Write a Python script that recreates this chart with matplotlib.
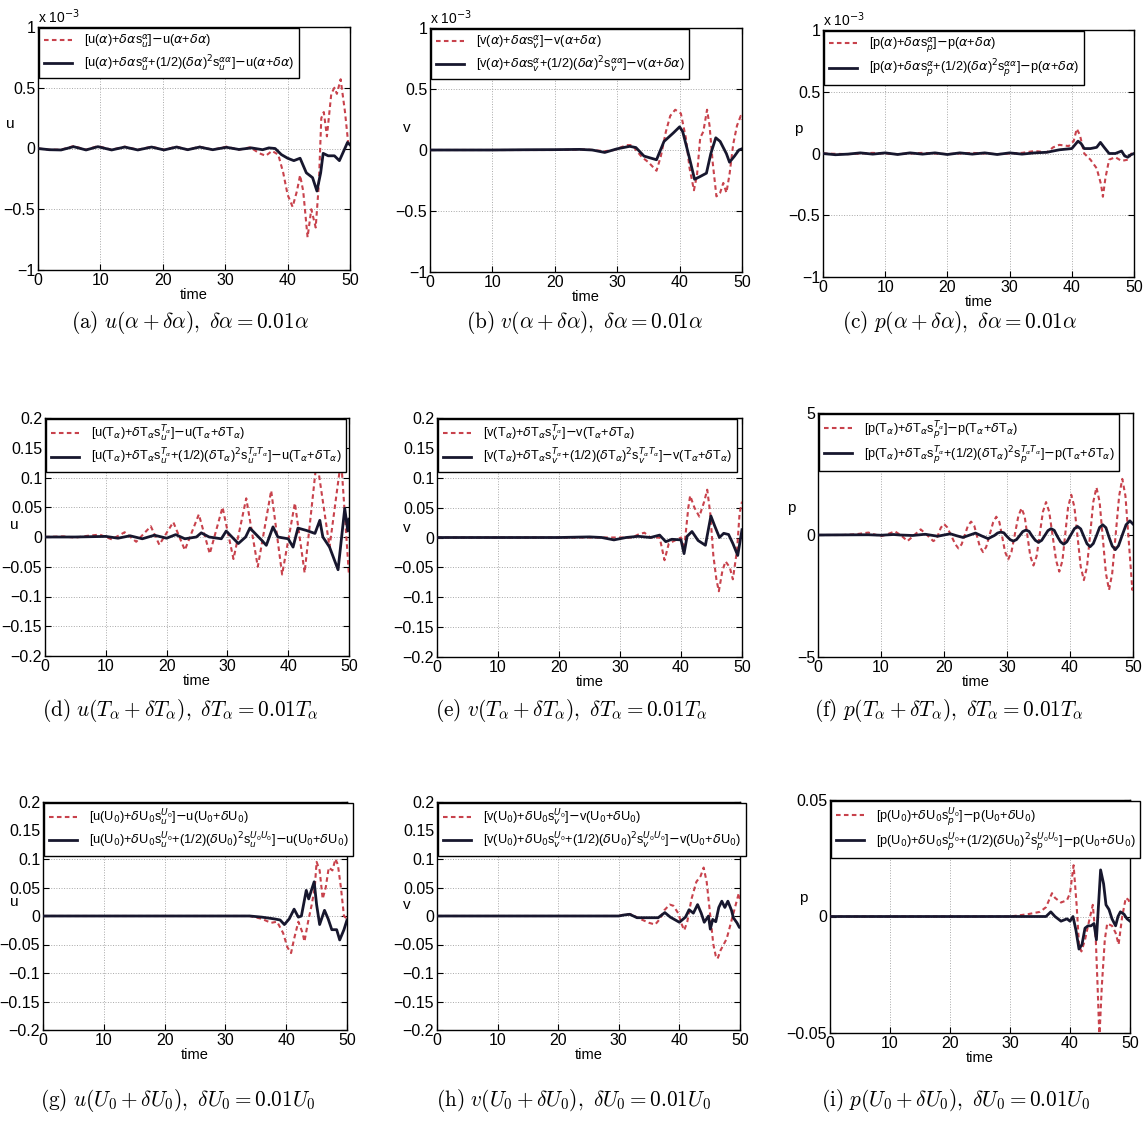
import matplotlib
matplotlib.use("Agg")
import matplotlib.pyplot as plt
from matplotlib.ticker import FixedLocator, FuncFormatter

W, H = 1143, 1127

# ---------------- data ----------------
# row 1: alpha perturbation, values in units of 1e-3
ta_blk = [0, 1.8, 3.7, 5.7, 7.7, 9.6, 11.8, 13.9, 16.0, 18.2, 20.2, 22.2, 24.0, 25.9, 28.0, 30.2, 32.2, 34.2,
          36.0, 37.0, 38.0, 39.0, 40.0, 41.0, 42.0, 43.0, 44.0, 44.7, 45.3, 45.7, 46.5, 47.5, 48.3, 49.0, 49.6, 50.0]
ua_blk = [0, -0.01, -0.012, 0.015, -0.012, 0.015, -0.012, 0.012, -0.012, 0.012, -0.012, 0.012, -0.01, 0.012, -0.01,
          0.01, -0.008, 0.005, -0.01, 0.005, 0.0, -0.05, -0.08, -0.1, -0.08, -0.2, -0.24, -0.35, -0.2, -0.04, -0.06,
          -0.06, -0.1, -0.02, 0.05, 0.03]
ta_red = [0, 1.8, 3.7, 5.7, 7.7, 9.6, 11.8, 13.9, 16.0, 18.2, 20.2, 22.2, 24.0, 25.9, 28.0, 30.2, 32.2, 34.0, 35.5,
          36.5, 37.5, 38.5, 39.3, 40.0, 40.8, 41.5, 42.0, 42.5, 43.2, 43.8, 44.5, 45.0, 45.4, 45.8, 46.3, 47.0, 47.5,
          47.9, 48.5, 49.2, 49.7, 50.0]
ua_red = [0, -0.01, -0.01, 0.02, -0.01, 0.02, -0.01, 0.015, -0.01, 0.015, -0.01, 0.015, -0.01, 0.015, -0.01, 0.015,
          -0.01, 0.01, -0.04, -0.06, -0.02, -0.05, -0.2, -0.38, -0.48, -0.35, -0.22, -0.35, -0.73, -0.5, -0.65, -0.3,
          0.25, 0.3, 0.1, 0.45, 0.5, 0.45, 0.57, 0.3, 0.05, 0.02]

tb_blk = [0, 5, 10, 15, 20, 24, 26, 28, 30, 32, 33, 34.3, 36.3, 37.5, 39, 40, 40.5, 41.5, 42.4, 43.2, 44.3, 45,
          45.8, 46.5, 47.5, 48, 48.8, 49.5, 50]
vb_blk = [0, 0, 0, 0.002, 0.003, 0.005, 0.0, -0.02, 0.01, 0.03, 0.02, -0.05, -0.08, 0.07, 0.14, 0.19, 0.15, -0.05,
          -0.24, -0.22, -0.19, -0.03, 0.1, 0.07, -0.03, -0.1, -0.05, 0.0, 0.01]
tb_red = [0, 10, 20, 25, 28, 29.5, 30.5, 31.5, 32.5, 33, 34, 35, 36.3, 37, 37.8, 38.5, 39.3, 40.2, 41, 41.6, 42.3,
          42.8, 43.3, 43.8, 44.4, 44.8, 45.3, 45.9, 46.5, 47, 47.5, 48, 48.6, 49.2, 49.8, 50]
vb_red = [0, 0, 0, 0.005, -0.01, 0.0, 0.02, 0.04, 0.04, 0.0, -0.06, -0.1, -0.17, -0.05, 0.15, 0.28, 0.33, 0.3, 0.1,
          -0.15, -0.33, -0.2, 0.1, 0.15, 0.33, 0.2, -0.1, -0.38, -0.35, -0.27, -0.35, -0.2, 0.05, 0.2, 0.28, 0.25]

tc_blk = [0, 2, 4, 6, 8, 10, 12, 14, 16, 18, 20, 22, 24, 26, 28, 30, 32, 34, 36, 37, 38, 40, 40.5, 41, 41.5, 42,
          43, 44, 44.6, 45.2, 46, 47, 48, 48.5, 49, 49.5, 50]
pc_blk = [0, -0.01, -0.005, 0.005, -0.005, 0.005, -0.008, 0.005, -0.005, 0.005, -0.008, 0.005, -0.005, 0.005,
          -0.008, 0.005, -0.005, 0.005, 0.01, 0.02, 0.03, 0.04, 0.07, 0.1, 0.08, 0.04, 0.04, 0.05, 0.09, 0.05, 0.0,
          0.0, 0.02, -0.02, -0.03, -0.01, 0.0]
tc_red = [0, 4, 8, 12, 16, 20, 24, 28, 32, 34, 36, 37, 38, 39.5, 40.3, 40.8, 41.3, 42, 43, 44, 44.7, 45, 45.4, 46,
          47, 48, 49, 49.6, 50]
pc_red = [0, -0.005, 0.005, -0.005, 0.005, -0.005, 0.005, -0.005, 0.005, 0.02, 0.01, 0.05, 0.07, 0.06, 0.1, 0.2,
          0.15, 0.0, -0.05, -0.12, -0.25, -0.35, -0.2, -0.05, -0.03, -0.06, -0.05, 0.0, 0.02]

# row 2: T_alpha perturbation
td_blk = [0, 5, 10, 12, 14, 16, 18, 20, 21.5, 23, 24.9, 25.7, 27, 29, 29.8, 31.8, 33, 33.7, 35.6, 36.4, 37.5, 38.3,
          40, 40.8, 41.6, 43, 44.4, 45.2, 45.7, 46.8, 48.2, 49.3, 49.8, 50]
ud_blk = [0, 0, 0.001, -0.002, 0.002, -0.003, 0.003, -0.002, 0.004, -0.003, 0.0, 0.007, 0.0, -0.003, 0.01, -0.011,
          0.0, 0.015, -0.005, -0.014, 0.017, 0.0, -0.003, -0.017, 0.015, 0.011, 0.006, 0.028, 0.0, -0.017, -0.055,
          0.048, 0.01, 0.03]
td_red = [0, 3, 5, 7, 9, 11, 13.1, 15, 17.4, 18.8, 21.1, 23, 25.3, 27.1, 29.2, 31, 33.1, 35, 37.2, 39, 41.1, 42.7,
          44.7, 46.8, 48.7, 50]
ud_red = [0, 0.001, -0.001, 0.002, 0.004, -0.004, 0.008, -0.008, 0.018, -0.013, 0.025, -0.022, 0.038, -0.028, 0.05,
          -0.037, 0.065, -0.05, 0.078, -0.063, 0.057, -0.06, 0.13, -0.017, 0.13, -0.065]

te_blk = [0, 10, 20, 25, 27, 29, 31, 33, 35, 36.5, 37.5, 38.5, 40, 40.5, 41, 41.8, 42.8, 44, 44.9, 45.5, 46.3, 47,
          47.8, 48.5, 49.3, 50]
ve_blk = [0, 0, 0, 0.001, 0.0, -0.004, 0.0, 0.002, 0.0, 0.004, -0.007, -0.003, -0.004, -0.027, 0.002, 0.01, -0.005,
          -0.013, 0.036, 0.02, 0.0, 0.007, 0.005, -0.01, -0.03, 0.013]
te_red = [0, 10, 20, 30, 32, 33, 34, 35, 36.5, 37.3, 38, 39, 40, 40.5, 41.2, 41.5, 42.2, 43, 43.8, 44.3, 44.8, 45.3,
          45.8, 46.2, 46.8, 47.3, 48, 48.5, 49.2, 49.6, 50]
ve_red = [0, 0, 0, 0, 0.0, 0.005, 0.008, 0.0, 0.0, -0.038, -0.01, -0.005, 0.0, -0.02, 0.05, 0.07, 0.05, 0.035, 0.06,
          0.08, 0.04, -0.03, -0.07, -0.09, -0.055, -0.04, -0.05, -0.07, -0.02, 0.04, 0.06]

tf_blk = [0, 8, 10, 12, 13, 15, 17, 19, 21, 22, 23, 24, 25, 26, 27, 28.0, 28.5, 29.0, 29.5, 30.0, 30.5, 31.0, 31.5,
          32.0, 32.5, 33.0, 33.5, 34.0, 34.5, 35.0, 35.5, 36.0, 36.5, 37.0, 37.5, 38.0, 38.5, 39.0, 39.5, 40.1, 40.7,
          41.2, 41.7, 42.2, 42.7, 43.2, 43.7, 44.2, 44.7, 45.2, 45.7, 46.2, 46.7, 47.2, 47.7, 48.3, 48.9, 49.5, 50.0]
pf_blk = [0, 0.01, -0.01, 0.02, 0.0, -0.02, 0.03, -0.05, 0.05, -0.03, -0.1, -0.01, 0.08, -0.04, -0.15, -0.02, 0.08,
          0.12, 0.09, -0.06, -0.19, -0.25, -0.19, -0.03, 0.14, 0.2, 0.15, -0.05, -0.22, -0.3, -0.22, -0.02, 0.18,
          0.26, 0.19, -0.06, -0.28, -0.38, -0.28, -0.01, 0.26, 0.35, 0.25, -0.06, -0.36, -0.48, -0.35, -0.03, 0.31,
          0.42, 0.3, -0.09, -0.45, -0.6, -0.44, 0.0, 0.42, 0.58, 0.45]
tf_red = [0, 4, 6, 8, 9, 10, 11, 12.2, 13.2, 14.2, 15.3, 16.3, 17.3, 18.3, 18.8, 19.5, 20.0, 20.5, 21.8, 22.3, 22.8,
          23.8, 24.3, 24.8, 25.7, 26.2, 26.7, 27.8, 28.3, 28.8, 29.7, 30.2, 30.7, 31.8, 32.3, 32.8, 33.7, 34.2, 34.7,
          35.7, 36.2, 36.7, 37.8, 38.3, 38.8, 39.7, 40.2, 40.7, 41.7, 42.2, 42.7, 43.7, 44.2, 44.7, 45.7, 46.2, 46.7,
          47.8, 48.3, 48.8, 49.9, 50]
pf_red = [0, 0.0, 0.03, 0.1, 0.02, -0.05, 0.03, 0.15, -0.02, -0.25, 0.0, 0.23, 0.0, -0.25, -0.17, 0.3, 0.45, 0.32,
          -0.38, -0.55, -0.38, 0.38, 0.55, 0.38, -0.49, -0.7, -0.49, 0.52, 0.75, 0.52, -0.7, -1.0, -0.7, 0.77, 1.1,
          0.77, -0.87, -1.25, -0.87, 0.95, 1.35, 0.95, -1.05, -1.5, -1.05, 1.15, 1.65, 1.15, -1.3, -1.85, -1.3, 1.36,
          1.95, 1.36, -1.57, -2.25, -1.57, 1.6, 2.3, 1.6, -2.25, -2.0]

# row 3: U_0 perturbation
tg_blk = [0, 10, 20, 30, 34, 36, 38, 39, 39.7, 40.5, 41.3, 42, 42.5, 43.3, 43.7, 44.2, 44.6, 45.0, 45.5, 46.3, 46.9,
          47.5, 48.3, 48.8, 49.5, 50]
ug_blk = [0, 0, 0, 0, 0.0, -0.002, -0.005, -0.007, -0.015, -0.005, 0.012, -0.002, 0.0, 0.045, 0.03, 0.047, 0.06,
          0.02, -0.015, 0.01, -0.005, -0.024, -0.024, -0.042, -0.024, -0.007]
tg_red = [0, 10, 20, 30, 34, 36, 37.5, 38.5, 39.5, 40.2, 40.8, 41.3, 42, 42.7, 43, 43.6, 44.2, 44.7, 45, 45.5, 46,
          46.5, 47, 47.6, 48.1, 48.5, 49, 49.5, 50]
ug_red = [0, 0, 0, 0, 0, -0.005, -0.012, -0.01, -0.03, -0.055, -0.065, -0.04, -0.01, -0.03, -0.045, -0.01, 0.02,
          0.05, 0.095, 0.08, 0.03, 0.05, 0.085, 0.08, 0.1, 0.09, 0.05, 0.0, -0.005]

th_blk = [0, 10, 20, 30, 31, 31.8, 33, 36.5, 37.6, 38.5, 40, 41, 41.6, 42.3, 43, 43.6, 44.1, 44.8, 45.1, 45.5, 46,
          46.5, 47, 47.5, 48, 48.6, 48.9, 49.5, 49.9, 50]
vh_blk = [0, 0, 0, 0, 0.002, 0.003, -0.003, -0.003, 0.006, -0.002, -0.011, -0.002, 0.011, 0.005, 0.02, 0.005,
          -0.011, 0.0, -0.023, -0.006, -0.01, 0.015, 0.026, 0.015, 0.026, 0.01, -0.003, -0.012, -0.02, -0.02]
th_red = [0, 10, 20, 30, 31, 32, 33.5, 35, 36, 36.8, 37.5, 38.4, 39, 39.8, 40.4, 40.8, 41.3, 42, 42.8, 43.5, 44,
          44.5, 45.1, 45.6, 46, 46.3, 46.8, 47.3, 47.8, 48.3, 48.8, 49.3, 49.8, 50]
vh_red = [0, 0, 0, 0, 0.003, 0.003, -0.005, -0.012, -0.015, -0.005, 0.01, 0.02, 0.018, 0.005, -0.015, -0.025,
          -0.01, 0.03, 0.06, 0.07, 0.085, 0.06, 0.0, -0.05, -0.07, -0.075, -0.06, -0.05, -0.04, -0.02, 0.0, 0.02,
          0.04, 0.03]

ti_blk = [0, 10, 20, 30, 36, 36.8, 37.5, 38.5, 39.5, 40, 40.5, 41, 41.5, 42, 42.5, 43, 43.5, 44, 44.4, 44.8, 45.1,
          45.6, 46, 46.5, 47, 47.6, 48, 48.4, 49, 49.5, 50]
pi_blk = [0, 0, 0, 0, 0, 0.002, 0.0, -0.002, -0.001, -0.002, 0.0, -0.006, -0.014, -0.012, -0.005, -0.004, -0.004,
          -0.003, -0.01, 0.007, 0.02, 0.014, 0.005, 0.003, -0.001, -0.004, 0.0, 0.002, 0.001, -0.001, -0.002]
ti_red = [0, 10, 20, 30, 33, 35, 36, 37, 37.5, 38.5, 39.5, 40, 40.4, 40.6, 41.1, 41.5, 41.9, 42.5, 43, 43.8, 44.3,
          44.6, 44.9, 45.3, 45.8, 46.2, 47, 47.6, 48.1, 48.7, 49.3, 49.8, 50]
pi_red = [0, 0, 0, 0, 0.001, 0.002, 0.004, 0.01, 0.008, 0.006, 0.007, 0.01, 0.018, 0.022, 0.005, -0.012, -0.015,
          -0.01, -0.004, 0.005, -0.01, -0.03, -0.052, -0.03, -0.01, -0.003, -0.004, -0.007, -0.012, 0.0, 0.008,
          0.007, 0.005]

yticks_row1 = [-1, -0.5, 0, 0.5, 1]
yticks_uv = [-0.2, -0.15, -0.1, -0.05, 0, 0.05, 0.1, 0.15, 0.2]
yticks_pT = [-5, 0, 5]
yticks_pU = [-0.05, 0, 0.05]
xticks = [0, 10, 20, 30, 40, 50]

# ---------------- legend / caption text ----------------
def labels(var, row):
    if row == 0:
        d = (rf"[{var}($\alpha$)+$\delta\alpha$s$_{var}^{{\alpha}}$]$-${var}($\alpha$+$\delta\alpha$)")
        s = (rf"[{var}($\alpha$)+$\delta\alpha$s$_{var}^{{\alpha}}$+(1/2)($\delta\alpha$)$^2$"
             rf"s$_{var}^{{\alpha\alpha}}$]$-${var}($\alpha$+$\delta\alpha$)")
    elif row == 1:
        d = (rf"[{var}(T$_\alpha$)+$\delta$T$_\alpha$s$_{var}^{{T_\alpha}}$]$-${var}(T$_\alpha$+$\delta$T$_\alpha$)")
        s = (rf"[{var}(T$_\alpha$)+$\delta$T$_\alpha$s$_{var}^{{T_\alpha}}$+(1/2)($\delta$T$_\alpha$)$^2$"
             rf"s$_{var}^{{T_\alpha T_\alpha}}$]$-${var}(T$_\alpha$+$\delta$T$_\alpha$)")
    else:
        d = (rf"[{var}(U$_0$)+$\delta$U$_0$s$_{var}^{{U_0}}$]$-${var}(U$_0$+$\delta$U$_0$)")
        s = (rf"[{var}(U$_0$)+$\delta$U$_0$s$_{var}^{{U_0}}$+(1/2)($\delta$U$_0$)$^2$"
             rf"s$_{var}^{{U_0 U_0}}$]$-${var}(U$_0$+$\delta$U$_0$)")
    return d, s


captions = [
    r"$\mathrm{(a)}\ u(\alpha+\delta\alpha),\ \delta\alpha=0.01\alpha$",
    r"$\mathrm{(b)}\ v(\alpha+\delta\alpha),\ \delta\alpha=0.01\alpha$",
    r"$\mathrm{(c)}\ p(\alpha+\delta\alpha),\ \delta\alpha=0.01\alpha$",
    r"$\mathrm{(d)}\ u(T_\alpha+\delta T_\alpha),\ \delta T_\alpha=0.01T_\alpha$",
    r"$\mathrm{(e)}\ v(T_\alpha+\delta T_\alpha),\ \delta T_\alpha=0.01T_\alpha$",
    r"$\mathrm{(f)}\ p(T_\alpha+\delta T_\alpha),\ \delta T_\alpha=0.01T_\alpha$",
    r"$\mathrm{(g)}\ u(U_0+\delta U_0),\ \delta U_0=0.01U_0$",
    r"$\mathrm{(h)}\ v(U_0+\delta U_0),\ \delta U_0=0.01U_0$",
    r"$\mathrm{(i)}\ p(U_0+\delta U_0),\ \delta U_0=0.01U_0$",
]
caption_xy = [(190, 322), (585, 322), (960, 322),
              (180, 710), (571, 710), (949, 710),
              (178, 1100), (573, 1100), (956, 1100)]

# axes boxes in pixels: left, right, top, bottom
boxes = [(38, 350, 27, 270), (430, 742, 28, 272), (823, 1134, 30, 277),
         (45, 349, 418, 656), (437, 742, 418, 657), (818, 1133, 413, 657),
         (43, 347, 802, 1030), (437, 740, 802, 1030), (830, 1130, 800, 1033)]
ylabel_pos = [(-0.09, 0.6), (-0.075, 0.59), (-0.08, 0.6),
              (-0.1, 0.55), (-0.1, 0.54), (-0.085, 0.61),
              (-0.095, 0.56), (-0.1, 0.55), (-0.09, 0.58)]

panels = [
    ("u", 0, ta_red, ua_red, ta_blk, ua_blk, yticks_row1),
    ("v", 0, tb_red, vb_red, tb_blk, vb_blk, yticks_row1),
    ("p", 0, tc_red, pc_red, tc_blk, pc_blk, yticks_row1),
    ("u", 1, td_red, ud_red, td_blk, ud_blk, yticks_uv),
    ("v", 1, te_red, ve_red, te_blk, ve_blk, yticks_uv),
    ("p", 1, tf_red, pf_red, tf_blk, pf_blk, yticks_pT),
    ("u", 2, tg_red, ug_red, tg_blk, ug_blk, yticks_uv),
    ("v", 2, th_red, vh_red, th_blk, vh_blk, yticks_uv),
    ("p", 2, ti_red, pi_red, ti_blk, pi_blk, yticks_pU),
]

plt.rcParams["font.family"] = ["Liberation Sans", "DejaVu Sans"]
plt.rcParams["axes.unicode_minus"] = True

RED = "#c8424c"
DARK = "#17172e"

fig = plt.figure(figsize=(W / 100, H / 100), dpi=100)
fig.patch.set_facecolor("white")

for i, (var, row, tr, yr, tb, yb, yt) in enumerate(panels):
    l, r, t, b = boxes[i]
    ax = fig.add_axes([l / W, 1 - b / H, (r - l) / W, (b - t) / H])
    lab_d, lab_s = labels(var, row)
    ax.plot(tr, yr, color=RED, lw=1.5, ls=(0, (2.2, 1.6)), label=lab_d, zorder=3)
    ax.plot(tb, yb, color=DARK, lw=2.0, label=lab_s, zorder=4)
    ax.set_xlim(0, 50)
    ax.set_ylim(yt[0], yt[-1])
    ax.xaxis.set_major_locator(FixedLocator(xticks))
    ax.yaxis.set_major_locator(FixedLocator(yt))
    ax.yaxis.set_major_formatter(FuncFormatter(lambda v, _: f"{v:g}".replace("-", "\u2212")))
    ax.grid(True, ls=":", color="#a8a8a8", lw=0.7)
    ax.tick_params(direction="in", length=4, width=0.8, top=True, right=True, labelsize=11.5, pad=2)
    for sp in ax.spines.values():
        sp.set_linewidth(1.0)
    ax.set_xlabel("time", fontsize=10.5, labelpad=0)
    ax.set_ylabel(var, fontsize=11, rotation=0, va="center", ha="center")
    ax.yaxis.set_label_coords(*ylabel_pos[i])
    if row == 0:
        ax.text(0.0, 1.005, r"x 10$^{-3}$", transform=ax.transAxes, fontsize=10, ha="left", va="bottom")
    leg = ax.legend(loc="upper left", bbox_to_anchor=(0.004, 0.996), fontsize=9.2, frameon=True,
                    fancybox=False, framealpha=1, edgecolor="black", handlelength=2.2,
                    borderaxespad=0, labelspacing=0.25, borderpad=0.38, handletextpad=0.9)
    leg.get_frame().set_linewidth(1.0)
    leg.set_zorder(10)

for cap, (cx, cy) in zip(captions, caption_xy):
    fig.text(cx / W, 1 - cy / H, cap, ha="center", va="center", fontsize=15.3, math_fontfamily="cm")

fig.savefig("out.png", dpi=100, facecolor="white")
